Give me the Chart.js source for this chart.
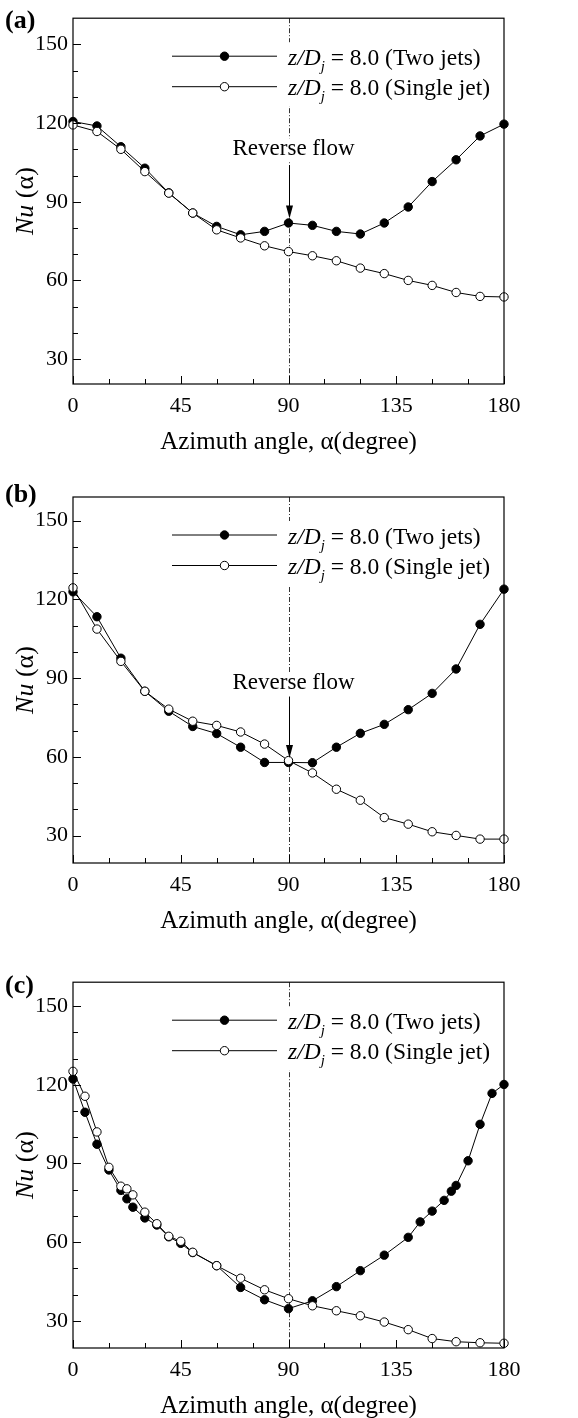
<!DOCTYPE html>
<html><head><meta charset="utf-8">
<script src="https://cdn.jsdelivr.net/npm/chart.js@4.4.0/dist/chart.umd.min.js"></script>
<style>
html,body{margin:0;padding:0;background:#fff;width:578px;height:1418px;overflow:hidden;}
canvas{position:absolute;left:0;}
</style></head><body>
<canvas id="ca" width="578" height="478" style="top:0px"></canvas>
<canvas id="cb" width="578" height="486" style="top:478px"></canvas>
<canvas id="cc" width="578" height="454" style="top:964px"></canvas>
<script>
// ---------- data ----------
const ALPHA_A = [0,10,20,30,40,50,60,70,80,90,100,110,120,130,140,150,160,170,180];
const TWO_A = [120.6,118.9,111,102.8,93.4,85.7,80.6,77.4,78.7,81.9,81,78.7,77.7,81.9,88,97.7,106,115.1,119.6];
const SINGLE_A = [119.3,116.8,110,101.5,93.3,85.7,79.3,76.2,73.2,71,69.4,67.5,64.7,62.6,60,58.1,55.4,53.9,53.7];

const ALPHA_B = [0,10,20,30,40,50,60,70,80,90,100,110,120,130,140,150,160,170,180];
const TWO_B = [122.9,113.4,97.6,85,77.4,71.6,68.9,63.7,57.9,57.9,57.8,63.7,69,72.4,78,84.2,93.5,110.5,123.9];
const SINGLE_B = [124.4,108.7,96.4,85,78.2,73.6,72,69.5,64.9,58.6,53.9,47.7,43.5,36.9,34.4,31.5,30.1,28.7,28.7];

const ALPHA_C_TWO = [0,5,10,15,20,22.5,25,30,35,40,45,50,60,70,80,90,100,110,120,130,140,145,150,155,158,160,165,170,175,180];
const TWO_C = [122.2,109.5,97.3,87.5,79.7,76.5,73.3,69.2,66.5,62,59.5,56,51,42.7,38,34.6,37.6,43,49.1,55,61.8,67.7,71.8,75.9,79.4,81.6,91,104.9,116.7,120.1];
const ALPHA_C_SINGLE = [0,5,10,15,20,22.5,25,30,35,40,45,50,60,70,80,90,100,110,120,130,140,150,160,170,180];
const SINGLE_C = [125.1,115.6,102,88.5,81.3,80.3,78,71.4,67,62.2,60.3,56.1,51,46.2,41.8,38.4,35.7,33.8,31.9,29.5,26.6,23.2,22,21.6,21.4];

const X_TICKS = [0,45,90,135,180];
const Y_TICKS = [30,60,90,120,150];
const X_MINOR_STEP = 15;
const Y_MINOR_STEP = 10;
const PANEL_LABELS = ['(a)','(b)','(c)'];
const LEGEND_SUFFIX = ['(Two jets)','(Single jet)'];
const X_TITLE = 'Azimuth angle, \u03b1(degree)';
const REF_LINE_X = 90;
// reverse-flow annotation: [text y value, arrow start y value]
const REVERSE_A = [110, 104];
const REVERSE_B = [88, 83];

// ---------- helpers ----------
const SERIF = '"Liberation Serif", "Times New Roman", serif';
const pts = (xs, ys) => xs.map((v, i) => ({x: v, y: ys[i]}));
const R = 4.2;

function drawLegendRow(ctx, rowY, filled, suffix) {
  ctx.save();
  ctx.strokeStyle = '#000'; ctx.lineWidth = 1;
  ctx.beginPath(); ctx.moveTo(172, rowY + 0.5); ctx.lineTo(277, rowY + 0.5); ctx.stroke();
  ctx.beginPath(); ctx.arc(224.5, rowY + 0.5, R, 0, Math.PI * 2);
  ctx.fillStyle = filled ? '#000' : '#fff'; ctx.fill(); ctx.stroke();
  const x = 288, base = rowY + 9;
  ctx.fillStyle = '#000'; ctx.textBaseline = 'alphabetic'; ctx.textAlign = 'left';
  ctx.font = 'italic 23.5px ' + SERIF;
  ctx.fillText('z/D', x, base);
  let w = ctx.measureText('z/D').width;
  ctx.font = 'italic 15px ' + SERIF;
  ctx.fillText('j', x + w, base + 6);
  w += ctx.measureText('j').width;
  ctx.font = '23.5px ' + SERIF;
  ctx.fillText(' = 8.0 ' + suffix, x + w, base);
  ctx.restore();
}

function decoPlugin(p) {
  return {
    id: 'deco' + p.idx,
    beforeDatasetsDraw(chart) {
      const {ctx, chartArea: a, scales: {x, y}} = chart;
      ctx.save();
      const px = Math.round(x.getPixelForValue(REF_LINE_X)) + 0.5;
      ctx.strokeStyle = '#333'; ctx.lineWidth = 1; ctx.setLineDash([5, 2, 1, 2]);
      ctx.beginPath(); ctx.moveTo(px, a.top); ctx.lineTo(px, a.bottom); ctx.stroke();
      ctx.setLineDash([]);
      // white backing behind legend text
      ctx.fillStyle = '#fff';
      ctx.fillRect(284, a.top + 24, 205, 64);
      if (p.reverse) {
        const ty = y.getPixelForValue(p.reverse[0]);
        ctx.fillRect(228, ty - 11, 128, 24);
      }
      ctx.restore();
    },
    afterDatasetsDraw(chart) {
      const {ctx, chartArea: a, scales: {x, y}} = chart;
      ctx.save();
      ctx.strokeStyle = '#000'; ctx.lineWidth = 1.2;
      ctx.strokeRect(a.left, a.top, a.right - a.left, a.bottom - a.top);
      ctx.lineWidth = 1;
      // x ticks (inward)
      for (let v = 0; v <= 180; v += X_MINOR_STEP) {
        const major = X_TICKS.includes(v);
        const px = Math.round(x.getPixelForValue(v)) + 0.5;
        ctx.beginPath(); ctx.moveTo(px, a.bottom); ctx.lineTo(px, a.bottom - (major ? 8 : 5)); ctx.stroke();
      }
      // y ticks (inward)
      for (let v = 30; v <= 150; v += Y_MINOR_STEP) {
        const major = Y_TICKS.includes(v);
        const py = Math.round(y.getPixelForValue(v)) + 0.5;
        ctx.beginPath(); ctx.moveTo(a.left, py); ctx.lineTo(a.left + (major ? 8 : 5), py); ctx.stroke();
      }
      // legend
      const rowY1 = a.top + 37.5, rowY2 = a.top + 68;
      drawLegendRow(ctx, rowY1, true, LEGEND_SUFFIX[0]);
      drawLegendRow(ctx, rowY2, false, LEGEND_SUFFIX[1]);
      // reverse flow annotation
      if (p.reverse) {
        const px = Math.round(x.getPixelForValue(REF_LINE_X)) + 0.5;
        const ty = y.getPixelForValue(p.reverse[0]);
        ctx.fillStyle = '#000'; ctx.font = '23px ' + SERIF;
        ctx.textAlign = 'center'; ctx.textBaseline = 'middle';
        ctx.fillText('Reverse flow', px + 4, ty);
        const y0 = y.getPixelForValue(p.reverse[1]);
        const tip = y.getPixelForValue(p.target) - 4.5;
        ctx.beginPath(); ctx.moveTo(px, y0); ctx.lineTo(px, tip - 10); ctx.stroke();
        ctx.beginPath(); ctx.moveTo(px - 3.5, tip - 13); ctx.lineTo(px + 3.5, tip - 13); ctx.lineTo(px, tip); ctx.closePath(); ctx.fill();
      }
      ctx.restore();
    },
    afterDraw(chart) {
      const {ctx, chartArea: a} = chart;
      ctx.save();
      ctx.fillStyle = '#000';
      // panel label
      ctx.font = 'bold 26px ' + SERIF; ctx.textAlign = 'left'; ctx.textBaseline = 'middle';
      ctx.fillText(PANEL_LABELS[p.idx], 5, p.labelY);
      // y-axis title Nu (alpha)
      ctx.translate(26, (a.top + a.bottom) / 2);
      ctx.rotate(-Math.PI / 2);
      ctx.textBaseline = 'middle'; ctx.textAlign = 'left';
      ctx.font = 'italic 26px ' + SERIF;
      const w1 = ctx.measureText('Nu').width;
      ctx.font = '26px ' + SERIF;
      const w2 = ctx.measureText(' (\u03b1)').width;
      const start = -(w1 + w2) / 2;
      ctx.font = 'italic 26px ' + SERIF;
      ctx.fillText('Nu', start, 0);
      ctx.font = '26px ' + SERIF;
      ctx.fillText(' (\u03b1)', start + w1, 0);
      ctx.restore();
    }
  };
}

function makeChart(id, p) {
  const datasets = [
    {data: p.two, borderColor: '#000', backgroundColor: '#000', pointBackgroundColor: '#000',
     pointBorderColor: '#000', borderWidth: 1, pointRadius: R, pointBorderWidth: 1, order: 1, clip: false},
    {data: p.single, borderColor: '#000', backgroundColor: '#fff', pointBackgroundColor: '#fff',
     pointBorderColor: '#000', borderWidth: 1, pointRadius: R, pointBorderWidth: 1, order: 0, clip: false}
  ];
  return new Chart(document.getElementById(id), {
    type: 'line',
    data: {datasets},
    options: {
      responsive: false, animation: false, events: [],
      layout: {padding: {top: p.padTop, bottom: p.padBottom, left: 0, right: 74}},
      plugins: {legend: {display: false}, tooltip: {enabled: false}},
      elements: {line: {tension: 0}},
      scales: {
        x: {
          type: 'linear', min: 0, max: 180,
          grid: {display: false, drawTicks: false}, border: {display: false},
          ticks: {stepSize: 45, padding: 9, color: '#000', font: {family: SERIF, size: 22}, maxRotation: 0},
          afterBuildTicks: s => { s.ticks = X_TICKS.map(v => ({value: v})); },
          afterFit: s => { s.height = 70; },
          title: {display: true, text: X_TITLE, color: '#000', padding: 0,
                  font: {family: SERIF, size: 25, lineHeight: 0.9}}
        },
        y: {
          type: 'linear', min: p.yMin, max: p.yMax,
          grid: {display: false, drawTicks: false}, border: {display: false},
          ticks: {padding: 5, color: '#000', font: {family: SERIF, size: 22}},
          afterBuildTicks: s => { s.ticks = Y_TICKS.map(v => ({value: v})); },
          afterFit: s => { s.width = 73; }
        }
      }
    },
    plugins: [decoPlugin(p)]
  });
}

makeChart('ca', {idx: 0, two: pts(ALPHA_A, TWO_A), single: pts(ALPHA_A, SINGLE_A),
  padTop: 18, padBottom: 24, yMin: 20.5, yMax: 160, labelY: 21,
  reverse: REVERSE_A, target: TWO_A[ALPHA_A.indexOf(REF_LINE_X)]});
makeChart('cb', {idx: 1, two: pts(ALPHA_B, TWO_B), single: pts(ALPHA_B, SINGLE_B),
  padTop: 19, padBottom: 31, yMin: 19.6, yMax: 159, labelY: 17,
  reverse: REVERSE_B, target: TWO_B[ALPHA_B.indexOf(REF_LINE_X)]});
makeChart('cc', {idx: 2, two: pts(ALPHA_C_TWO, TWO_C), single: pts(ALPHA_C_SINGLE, SINGLE_C),
  padTop: 17, padBottom: 0, yMin: 19.6, yMax: 159.1, labelY: 22});
</script>
</body></html>
